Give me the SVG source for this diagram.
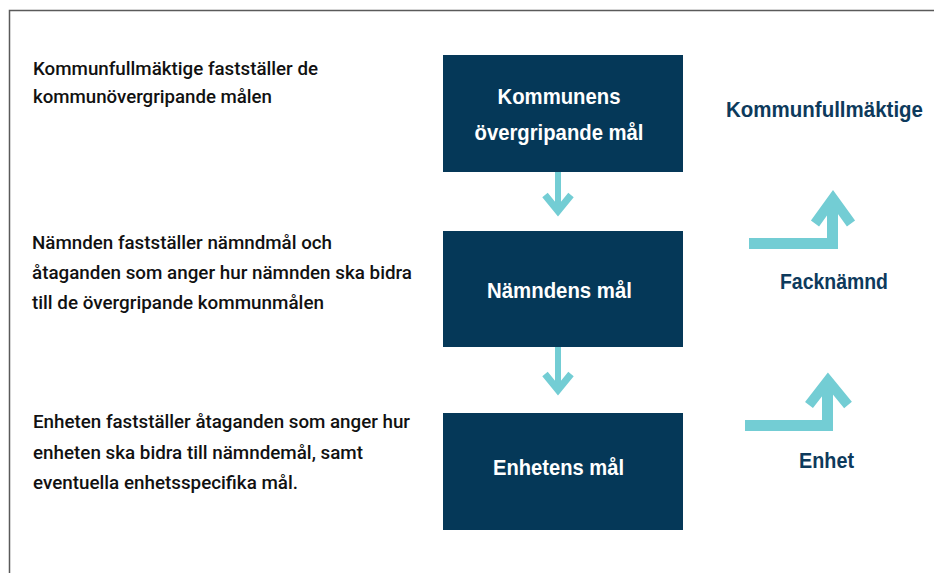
<svg xmlns="http://www.w3.org/2000/svg" width="934" height="573" viewBox="0 0 934 573">
<style>
.desc{font-family:Roboto,"Liberation Sans",Arial,sans-serif;font-weight:500;font-size:18.5px;fill:#111}
.box{fill:#053858}
.boxt{font-family:"Liberation Sans",Arial,sans-serif;font-weight:bold;font-size:21.5px;fill:#fff;text-anchor:middle}
.lbl{font-family:"Liberation Sans",Arial,sans-serif;font-weight:bold;font-size:21.5px;fill:#0d3a5c}
.arr{fill:none;stroke:#73cdd4;stroke-linejoin:miter;stroke-linecap:butt}
</style>
<rect width="934" height="573" fill="#fff"/>
<path d="M9.5,573 V10.5 H934" fill="none" stroke="#5a5a5a" stroke-width="1.5"/>

<g id="desc-kf">
<text class="desc" x="33" y="75" textLength="285" lengthAdjust="spacingAndGlyphs">Kommunfullmäktige fastställer de</text>
<text class="desc" x="33" y="103" textLength="239" lengthAdjust="spacingAndGlyphs">kommunövergripande målen</text>
</g>
<g id="desc-nd">
<text class="desc" x="32" y="249" textLength="300" lengthAdjust="spacingAndGlyphs">Nämnden fastställer nämndmål och</text>
<text class="desc" x="32" y="279" textLength="380" lengthAdjust="spacingAndGlyphs">åtaganden som anger hur nämnden ska bidra</text>
<text class="desc" x="32" y="309" textLength="292" lengthAdjust="spacingAndGlyphs">till de övergripande kommunmålen</text>
</g>
<g id="desc-en">
<text class="desc" x="33" y="428" textLength="377" lengthAdjust="spacingAndGlyphs">Enheten fastställer åtaganden som anger hur</text>
<text class="desc" x="33" y="459" textLength="330" lengthAdjust="spacingAndGlyphs">enheten ska bidra till nämndemål, samt</text>
<text class="desc" x="33" y="489" textLength="265" lengthAdjust="spacingAndGlyphs">eventuella enhetsspecifika mål.</text>
</g>

<g id="node-kommun">
<rect class="box" x="443" y="55" width="240" height="117"/>
<text class="boxt" x="559" y="104" textLength="123" lengthAdjust="spacingAndGlyphs">Kommunens</text>
<text class="boxt" x="559" y="140" textLength="169" lengthAdjust="spacingAndGlyphs">övergripande mål</text>
</g>
<g id="node-namnd">
<rect class="box" x="443" y="231" width="240" height="116"/>
<text class="boxt" x="559.5" y="298" textLength="145" lengthAdjust="spacingAndGlyphs">Nämndens mål</text>
</g>
<g id="node-enhet">
<rect class="box" x="443" y="413" width="240" height="117"/>
<text class="boxt" x="558.5" y="475" textLength="131" lengthAdjust="spacingAndGlyphs">Enhetens mål</text>
</g>

<g id="lbl-kf"><text class="lbl" x="726" y="117" textLength="197" lengthAdjust="spacingAndGlyphs">Kommunfullmäktige</text></g>
<g id="lbl-fn"><text class="lbl" x="780" y="289" textLength="108" lengthAdjust="spacingAndGlyphs">Facknämnd</text></g>
<g id="lbl-en"><text class="lbl" x="799" y="468" textLength="55" lengthAdjust="spacingAndGlyphs">Enhet</text></g>

<g id="connectors">
<path class="arr" stroke-width="6" d="M558,172 V210"/>
<polyline class="arr" stroke-width="7" points="545,195 558,211 571,195"/>
<path class="arr" stroke-width="6" d="M558,347 V389"/>
<polyline class="arr" stroke-width="7" points="545,374 558,390 571,374"/>
<path class="arr" stroke-width="11" d="M749,243.5 H832.5 V200"/>
<polyline class="arr" stroke-width="10" points="815,223.5 833,198.5 851,223.5"/>
<path class="arr" stroke-width="11" d="M745,425.5 H827.5 V384"/>
<polyline class="arr" stroke-width="10" points="809,405 828,380.5 848,405"/>
</g>
</svg>
